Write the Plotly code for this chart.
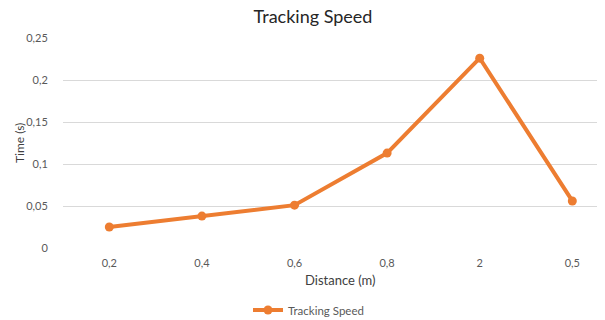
import plotly.graph_objects as go

categories = ["0,2", "0,4", "0,6", "0,8", "2", "0,5"]
times = [0.025, 0.038, 0.051, 0.113, 0.226, 0.056]
y_ticks = [0, 0.05, 0.1, 0.15, 0.2, 0.25]
y_tick_labels = ["0", "0,05", "0,1", "0,15", "0,2", "0,25"]

color = "#ED7D31"
font = "Lato"
gray = "#595959"

# page body has an 8px default margin, so the figure is drawn offset by 8px
W, H = 597, 312
L, T, B = 55, 30, 72
plot_h = H - T - B  # 210
plot_w = W - L      # 542

fig = go.Figure()
fig.add_trace(go.Scatter(
    x=list(range(len(categories))), y=times, mode="lines+markers",
    name="Tracking Speed",
    line=dict(color=color, width=4),
    marker=dict(color=color, size=9),
))

fig.update_layout(
    width=W, height=H,
    margin=dict(l=L, r=0, t=T, b=B, autoexpand=False),
    paper_bgcolor="white", plot_bgcolor="white",
    font=dict(family=font, color=gray, size=11),
    title=dict(text="Tracking Speed", x=305 / W, xref="container", xanchor="center",
               y=1.0, yref="container", yanchor="top", pad=dict(t=2, b=0),
               font=dict(size=18, color="#262626", family=font)),
    showlegend=True,
    legend=dict(orientation="h", x=(240 - L) / plot_w, xanchor="left", xref="paper",
                y=-(302 - (T + plot_h)) / plot_h, yanchor="middle",
                font=dict(size=11.5, color=gray)),
    xaxis=dict(
        tickmode="array", tickvals=list(range(len(categories))), ticktext=categories,
        range=[-0.5, 5.353], showgrid=False, zeroline=False, automargin=False,
        showline=False, ticks="outside", ticklen=5, tickcolor="rgba(0,0,0,0)",
    ),
    yaxis=dict(
        tickmode="array", tickvals=y_ticks, ticktext=y_tick_labels,
        range=[0, 0.25], showgrid=True, gridcolor="#D9D9D9", gridwidth=1,
        zeroline=False, showline=False, automargin=False,
        ticks="outside", ticklen=12, tickcolor="rgba(0,0,0,0)",
    ),
    annotations=[
        dict(text="Distance (m)", xref="paper", yref="paper",
             x=(332 - L) / plot_w, y=-(272 - (T + plot_h)) / plot_h,
             xanchor="center", yanchor="middle", showarrow=False,
             font=dict(size=13, color="#404040")),
        dict(text="Time (s)", xref="paper", yref="paper", textangle=-90,
             x=(11 - L) / plot_w, y=1 - (135 - T) / plot_h,
             xanchor="center", yanchor="middle", showarrow=False,
             font=dict(size=12, color="#404040")),
    ],
)

fig.write_html("out.html")
